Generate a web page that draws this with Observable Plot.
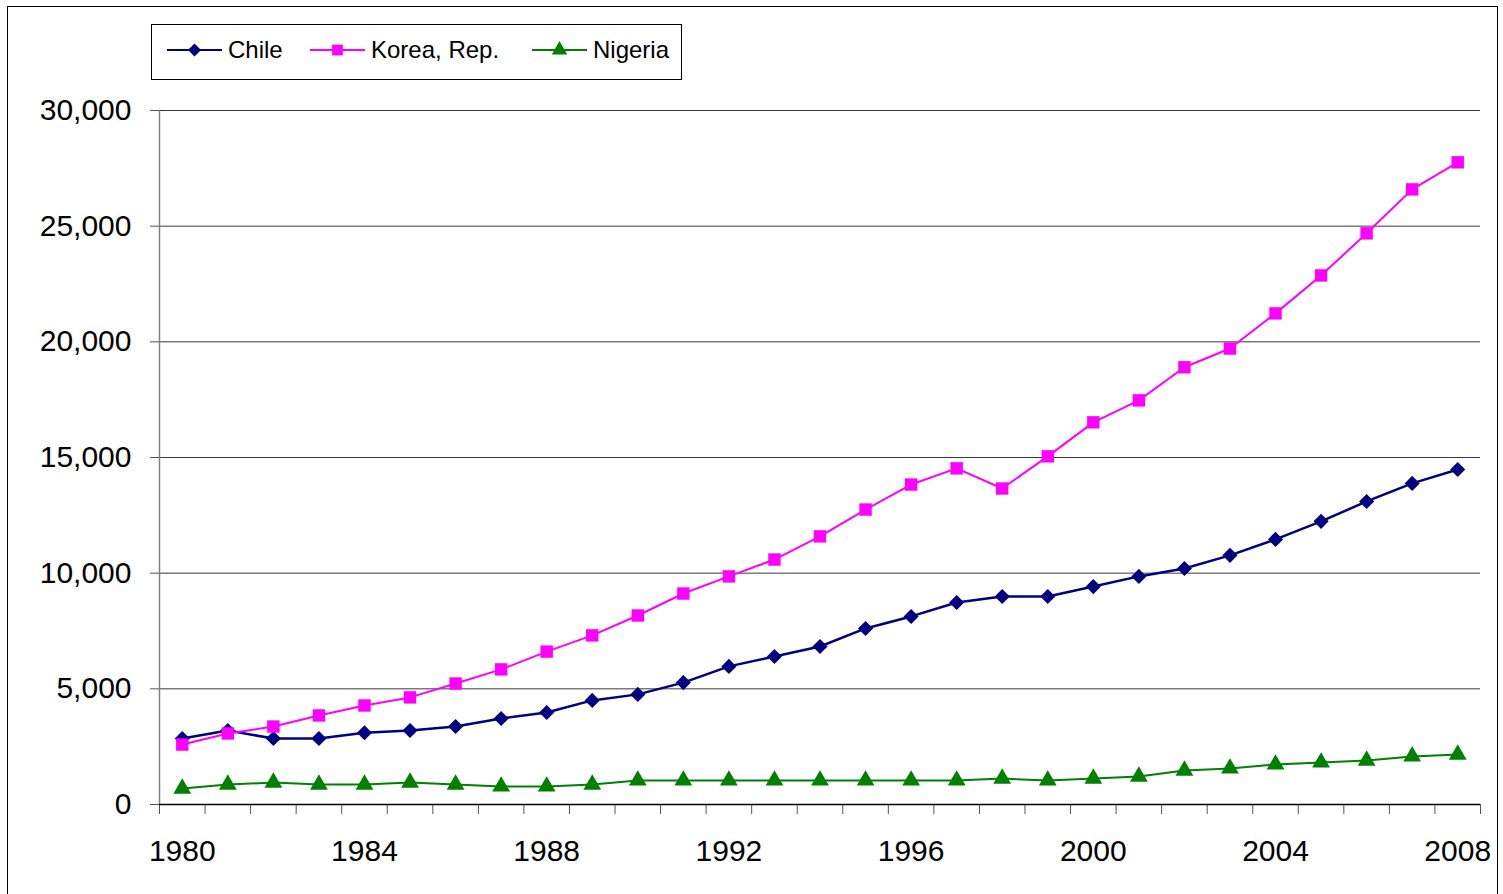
<!DOCTYPE html>
<html>
<head>
<meta charset="utf-8">
<script src="https://cdn.jsdelivr.net/npm/d3@7"></script>
<script src="https://cdn.jsdelivr.net/npm/@observablehq/plot@0.6"></script>
<style>
  html, body { margin: 0; padding: 0; background: #fff; overflow: hidden; }
  #wrap { position: relative; width: 1503px; height: 894px; font-family: "Liberation Sans", Arial, sans-serif; }
  #frame { position: absolute; left: 7px; top: 6px; width: 1489px; height: 920px; border: 1.5px solid #000; pointer-events: none; }
  #legend { position: absolute; left: 151px; top: 24px; }
</style>
</head>
<body>
<div id="wrap">
  <div id="chart"></div>
  <div id="frame"></div>
  <div id="legend"></div>
</div>
<script>
const years = d3.range(1980, 2009);
const chile = [2850, 3200, 2850, 2850, 3100, 3200, 3370, 3720, 3980, 4500,
  4760, 5270, 5970, 6400, 6830, 7610, 8130, 8730, 8990, 8990,
  9420, 9860, 10200, 10770, 11460, 12240, 13100, 13880, 14480];
const korea = [2590, 3070, 3370, 3850, 4280, 4630, 5230, 5840, 6610, 7310,
  8170, 9120, 9860, 10590, 11590, 12750, 13830, 14530, 13660, 15050,
  16520, 17470, 18900, 19710, 21230, 22870, 24690, 26590, 27760];
const nigeria = [690, 860, 950, 860, 860, 950, 860, 780, 780, 860,
  1040, 1040, 1040, 1040, 1040, 1040, 1040, 1040, 1120, 1040,
  1120, 1210, 1470, 1560, 1730, 1820, 1900, 2080, 2160];
const seriesNames = ["Chile", "Korea, Rep.", "Nigeria"];
const seriesColors = ["#000080", "#FF00FF", "#008000"];
const seriesSymbols = ["diamond2", "square", "triangle"];
const seriesR = [6.8, 7.0, 6.6];
const seriesValues = [chile, korea, nigeria];
const yTicks = [0, 5000, 10000, 15000, 20000, 25000, 30000];
const xLabels = [1980, 1984, 1988, 1992, 1996, 2000, 2004, 2008];

const data = [];
seriesNames.forEach((name, i) => {
  years.forEach((yr, j) => data.push({series: name, year: yr, value: seriesValues[i][j]}));
});
const boundaries = d3.range(years[0] - 0.5, years[years.length - 1] + 1, 1);

const marks = [
  Plot.ruleY(yTicks.slice(1), {stroke: "#3a3a3a", strokeWidth: 1}),
  Plot.ruleX([boundaries[0]], {stroke: "#808080", strokeWidth: 1.5}),
  Plot.axisY({ticks: yTicks, tickFormat: d3.format(","), tickSize: 9, tickPadding: 19,
    fontSize: 30, stroke: "#555", fill: "#000", label: null}),
  Plot.axisX({ticks: boundaries, tickFormat: () => "", tickSize: 10, stroke: "#555", label: null}),
  Plot.axisX({ticks: xLabels, tickFormat: d => String(d), tickSize: 0, tickPadding: 35,
    fontSize: 30, fill: "#000", label: null}),
  Plot.ruleY([0], {stroke: "#000", strokeWidth: 1.5})
];
seriesNames.forEach((name, i) => {
  const d = data.filter(r => r.series === name);
  marks.push(Plot.line(d, {x: "year", y: "value", stroke: seriesColors[i], strokeWidth: i === 0 ? 2.5 : 2}));
});
seriesNames.forEach((name, i) => {
  const d = data.filter(r => r.series === name);
  marks.push(Plot.dot(d, {x: "year", y: "value", symbol: () => seriesSymbols[i], fill: seriesColors[i],
    r: seriesR[i], stroke: "none"}));
});

const chart = Plot.plot({
  width: 1503,
  height: 894,
  marginLeft: 159,
  marginRight: 23,
  marginTop: 110,
  marginBottom: 90,
  style: {fontFamily: "'Liberation Sans', Arial, sans-serif", background: "#fff"},
  x: {domain: [boundaries[0], boundaries[boundaries.length - 1]], axis: null},
  y: {domain: [0, 30000], axis: null},
  symbol: {type: "identity"},
  marks
});
document.getElementById("chart").appendChild(chart);

// Legend
const lg = d3.select("#legend").append("svg").attr("width", 532).attr("height", 57);
lg.append("rect").attr("x", 0.5).attr("y", 0.5).attr("width", 530).attr("height", 55)
  .attr("fill", "#fff").attr("stroke", "#000");
const itemX = [16, 159, 381];
seriesNames.forEach((name, i) => {
  const g = lg.append("g").attr("transform", `translate(${itemX[i]},26)`);
  g.append("line").attr("x1", 0).attr("x2", 55).attr("stroke", seriesColors[i]).attr("stroke-width", 2);
  const symMap = {diamond2: d3.symbolDiamond2, square: d3.symbolSquare, triangle: d3.symbolTriangle};
  g.append("path").attr("transform", "translate(27.5,0)")
    .attr("d", d3.symbol(symMap[seriesSymbols[i]], Math.PI * seriesR[i] * seriesR[i] * 0.75)())
    .attr("fill", seriesColors[i]);
  g.append("text").attr("x", 61).attr("y", 8).attr("font-size", 24)
    .attr("font-family", "'Liberation Sans', Arial, sans-serif").attr("fill", "#000").text(name);
});
</script>
</body>
</html>
